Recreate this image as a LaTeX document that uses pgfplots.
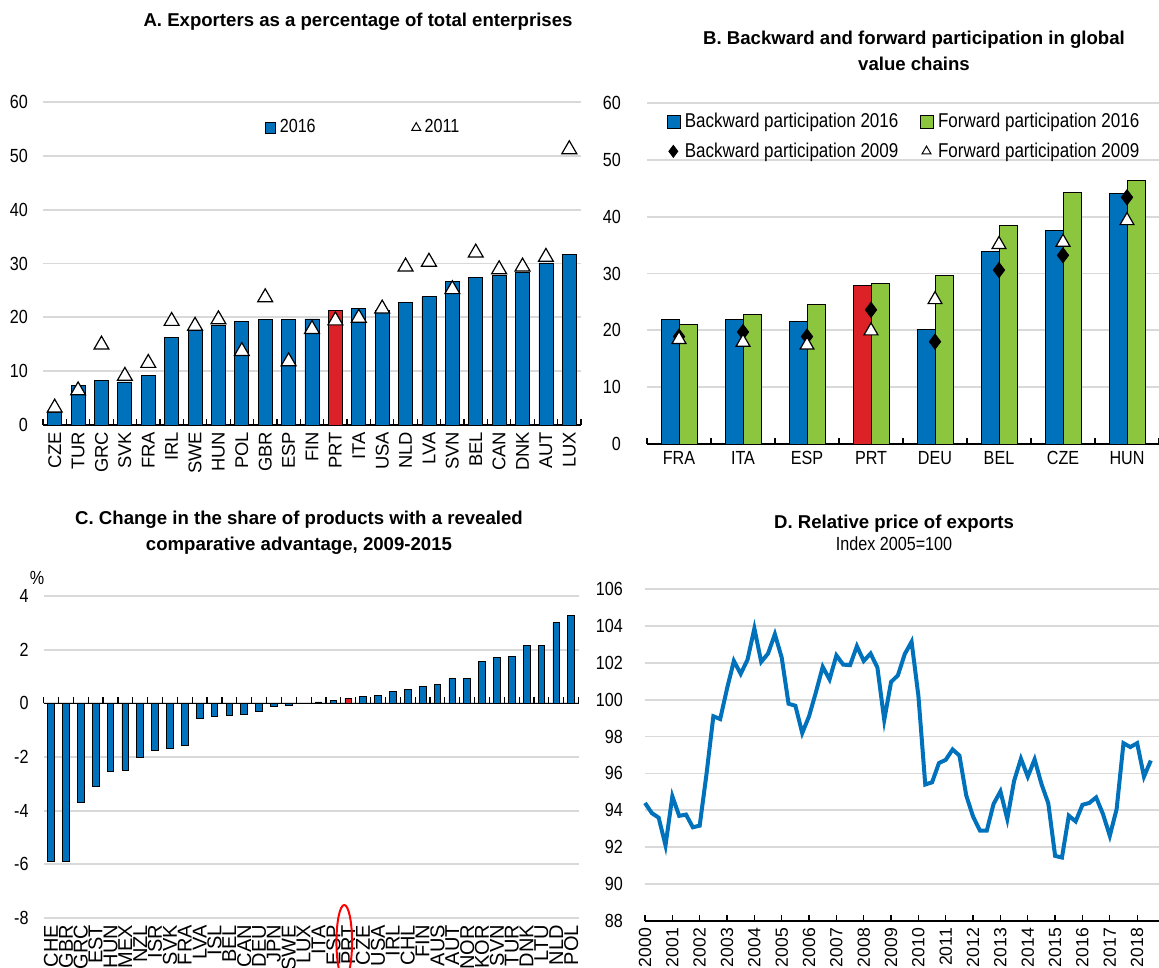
\documentclass[border=0pt]{standalone}
\usepackage{fontspec}
\setmainfont{Liberation Sans}[FakeStretch=0.85]
\newfontfamily\titlefont{Liberation Sans}
\usepackage{pgfplots}
\pgfplotsset{compat=1.18}

\definecolor{oblue}{RGB}{0,114,188}
\definecolor{ored}{RGB}{220,33,39}
\definecolor{ogreen}{RGB}{140,198,63}
\definecolor{ogrid}{RGB}{217,217,217}

\newcommand{\tfont}{\fontsize{9.5}{11}\selectfont}
\newcommand{\ttl}{\titlefont\bfseries\fontsize{9.3}{13}\selectfont}

\pgfplotsset{
  oecd/.style={
    scale only axis,
    anchor=south west,
    axis lines*=left,
    y axis line style={draw=none},
    x axis line style={line width=0.8pt,-},
    ytick style={draw=none},
    ymajorgrids,
    grid style={ogrid, line width=0.9pt},
    tick label style={font=\tfont},
    yticklabel style={xshift=-4pt},
    enlargelimits=false,
    clip=false,
  }
}

% Panel A: exporters (% of enterprises), 2016 bars and 2011 markers
\pgfplotstableread{
i name v16 v11
0  CZE 2.4  3.2
1  TUR 7.3  6.4
2  GRC 8.2  14.9
3  SVK 8.0  9.1
4  FRA 9.2  11.5
5  IRL 16.2 19.3
6  SWE 17.6 18.4
7  HUN 18.5 19.6
8  POL 19.2 13.7
9  GBR 19.6 23.7
10 ESP 19.6 11.8
11 FIN 19.7 17.8
12 PRT 21.2 19.4
13 ITA 21.7 19.9
14 USA 21.3 21.6
15 NLD 22.7 29.4
16 LVA 23.9 30.3
17 SVN 26.7 25.2
18 BEL 27.4 32.0
19 CAN 27.8 28.9
20 DNK 28.4 29.4
21 AUT 30.1 31.2
22 LUX 31.7 51.2
}\dataA

% Panel B: GVC participation
\pgfplotstableread{
i name b16 f16 b09 f09
0 FRA 21.95 21.1 18.9 18.4
1 ITA 21.95 22.8 19.7 17.9
2 ESP 21.5  24.6 18.9 17.4
3 PRT 27.9  28.3 23.6 19.9
4 DEU 20.2  29.7 18.0 25.4
5 BEL 33.8  38.5 30.6 35.1
6 CZE 37.6  44.2 33.2 35.5
7 HUN 44.1  46.4 43.4 39.3
}\dataB

% Panel C: change in RCA share
\pgfplotstableread{
i name v
0  CHE -5.88
1  GBR -5.88
2  GRC -3.71
3  EST -3.08
4  HUN -2.55
5  MEX -2.49
6  NZL -2.0
7  ISR -1.75
8  SVK -1.69
9  FRA -1.55
10 LVA -0.57
11 ISL -0.47
12 BEL -0.44
13 CAN -0.41
14 DEU -0.30
15 JPN -0.12
16 SWE -0.09
17 LUX 0.01
18 ITA 0.05
19 ESP 0.10
20 PRT 0.19
21 CZE 0.27
22 USA 0.30
23 IRL 0.45
24 CHL 0.53
25 FIN 0.62
26 AUS 0.72
27 AUT 0.92
28 NOR 0.93
29 KOR 1.55
30 SVN 1.72
31 TUR 1.75
32 DNK 2.15
33 LTU 2.15
34 NLD 3.01
35 POL 3.27
}\dataC

% Panel D: relative export price, quarterly
\pgfplotstableread{
t v
2000.00 94.4
2000.25 93.85
2000.50 93.6
2000.75 92.1
2001.00 94.76
2001.25 93.7
2001.50 93.77
2001.75 93.08
2002.00 93.17
2002.25 95.98
2002.50 99.1
2002.75 98.95
2003.00 100.6
2003.25 102.1
2003.50 101.4
2003.75 102.17
2004.00 103.86
2004.25 102.05
2004.50 102.5
2004.75 103.55
2005.00 102.28
2005.25 99.78
2005.50 99.67
2005.75 98.19
2006.00 99.1
2006.25 100.4
2006.50 101.78
2006.75 101.1
2007.00 102.4
2007.25 101.9
2007.50 101.87
2007.75 102.9
2008.00 102.1
2008.25 102.5
2008.50 101.74
2008.75 98.9
2009.00 100.96
2009.25 101.32
2009.50 102.47
2009.75 103.14
2010.00 100.2
2010.25 95.4
2010.50 95.52
2010.75 96.56
2011.00 96.74
2011.25 97.3
2011.50 96.97
2011.75 94.8
2012.00 93.66
2012.25 92.9
2012.50 92.9
2012.75 94.35
2013.00 95.03
2013.25 93.53
2013.50 95.6
2013.75 96.8
2014.00 95.83
2014.25 96.76
2014.50 95.43
2014.75 94.38
2015.00 91.53
2015.25 91.44
2015.50 93.71
2015.75 93.4
2016.00 94.3
2016.25 94.4
2016.50 94.7
2016.75 93.8
2017.00 92.62
2017.25 94.07
2017.50 97.64
2017.75 97.43
2018.00 97.64
2018.25 95.83
2018.50 96.7
}\dataD

\begin{document}
\begin{tikzpicture}
\path[use as bounding box] (0pt,0pt) rectangle (579.5pt,483.5pt);

% titles
\node[font=\ttl] at (179pt,472.5pt) {A. Exporters as a percentage of total enterprises};
\node[font=\ttl, align=center] at (457pt,458pt) {B. Backward and forward participation in global\\value chains};
\node[font=\ttl, align=center] at (149.5pt,217pt) {C. Change in the share of products with a revealed\\comparative advantage, 2009-2015};
\node[align=center, font=\tfont] at (447pt,217pt) {{\ttl D. Relative price of exports}\\Index 2005=100};
\node[font=\tfont] at (18.5pt,194.5pt) {\%};

% ---------- A ----------
\begin{axis}[oecd,
  at={(21.5pt,271pt)}, width=269pt, height=161.5pt,
  xmin=-0.5, xmax=22.5, ymin=0, ymax=60,
  ytick={0,10,20,30,40,50,60}, yticklabels={0,10,20,30,40,50,60},
  xtick={0,...,22},
  xticklabels={CZE,TUR,GRC,SVK,FRA,IRL,SWE,HUN,POL,GBR,ESP,FIN,PRT,ITA,USA,NLD,LVA,SVN,BEL,CAN,DNK,AUT,LUX},
  xticklabel style={rotate=90, anchor=east, font=\titlefont\fontsize{9.2}{11}\selectfont},
  minor xtick={-0.5,0.5,...,22.5},
  major tick length=0pt, minor tick length=3pt, tick align=inside,
  minor x tick style={black, line width=0.6pt},
  legend columns=2,
  legend style={draw=none, fill=none, font=\tfont, at={(0.40,0.92)}, anchor=west,
    /tikz/every even column/.append style={column sep=46pt}},
]
\addplot[ybar, bar width=0.6, bar shift=0pt, fill=oblue, draw=black, line width=0.4pt,
  legend image code/.code={\draw[fill=oblue,draw=black,line width=0.4pt] (0pt,-2.6pt) rectangle (5.2pt,2.6pt);}]
  table[x=i,y=v16] {\dataA};
\addlegendentry{2016}
\addplot[ybar, bar width=0.6, bar shift=0pt, fill=ored, draw=black, line width=0.4pt, forget plot]
  coordinates {(12,21.2)};
\addplot[only marks, mark=triangle*, mark size=4.3pt,
  mark options={fill=white, draw=black, line width=0.6pt},
  legend image code/.code={\draw[only marks, mark=triangle*, mark size=2.6pt, mark options={fill=white, draw=black, line width=0.5pt}] plot coordinates {(0.1cm,0cm)};}]
  table[x=i,y=v11] {\dataA};
\addlegendentry{2011}
\end{axis}

% ---------- B ----------
\begin{axis}[oecd,
  at={(323.5pt,261.5pt)}, width=256pt, height=170.5pt,
  xmin=-0.5, xmax=7.5, ymin=0, ymax=60,
  ytick={0,10,20,30,40,50,60}, yticklabels={0,10,20,30,40,50,60},
  yticklabel style={xshift=-5.5pt},
  xtick={0,...,7},
  xticklabels={FRA,ITA,ESP,PRT,DEU,BEL,CZE,HUN},
  minor xtick={-0.5,0.5,...,7.5},
  major tick length=0pt, minor tick length=3pt, tick align=inside,
  minor x tick style={black, line width=0.6pt},
  legend columns=2,
  legend style={draw=none, fill=none, font=\fontsize{10}{11}\selectfont, at={(0.027,0.995)}, anchor=north west,
    row sep=2pt,
    /tikz/every even column/.append style={column sep=9pt}},
]
\addplot[ybar, bar width=0.28, bar shift=-0.14, fill=oblue, draw=black, line width=0.4pt,
  legend image code/.code={\draw[fill=oblue,draw=black,line width=0.4pt] (0pt,-3.2pt) rectangle (6.4pt,3.2pt);}]
  table[x=i,y=b16] {\dataB};
\addlegendentry{Backward participation 2016}
\addplot[ybar, bar width=0.28, bar shift=0.14, fill=ogreen, draw=black, line width=0.4pt,
  legend image code/.code={\draw[fill=ogreen,draw=black,line width=0.4pt] (0pt,-3.2pt) rectangle (6.4pt,3.2pt);}]
  table[x=i,y=f16] {\dataB};
\addlegendentry{Forward participation 2016}
\addplot[ybar, bar width=0.28, bar shift=-0.14, fill=ored, draw=black, line width=0.4pt, forget plot]
  coordinates {(3,27.9)};
\addplot[only marks, mark=diamond*, mark size=3.8pt,
  mark options={fill=black, draw=black},
  legend image code/.code={\draw[only marks, mark=diamond*, mark size=3pt, mark options={fill=black, draw=black}] plot coordinates {(0.1cm,0cm)};}]
  table[x=i,y=b09] {\dataB};
\addlegendentry{Backward participation 2009}
\addplot[only marks, mark=triangle*, mark size=4pt,
  mark options={fill=white, draw=black, line width=0.6pt},
  legend image code/.code={\draw[only marks, mark=triangle*, mark size=2.6pt, mark options={fill=white, draw=black, line width=0.5pt}] plot coordinates {(0.1cm,0cm)};}]
  table[x=i,y=f09] {\dataB};
\addlegendentry{Forward participation 2009}
\end{axis}

% ---------- C ----------
\begin{axis}[oecd,
  at={(21.8pt,24.5pt)}, width=267.5pt, height=161pt,
  xmin=-0.5, xmax=35.5, ymin=-8, ymax=4,
  ytick={-8,-6,-4,-2,0,2,4}, yticklabels={-8,-6,-4,-2,0,2,4},
  x axis line style={draw=none},
  xtick={0,...,35},
  xticklabels={CHE,GBR,GRC,EST,HUN,MEX,NZL,ISR,SVK,FRA,LVA,ISL,BEL,CAN,DEU,JPN,SWE,LUX,ITA,ESP,PRT,CZE,USA,IRL,CHL,FIN,AUS,AUT,NOR,KOR,SVN,TUR,DNK,LTU,NLD,POL},
  xticklabel style={rotate=90, anchor=east, font=\titlefont\fontsize{10}{11}\selectfont},
  major tick length=0pt,
]
\addplot[ybar, bar width=0.45, bar shift=0pt, fill=oblue, draw=black, line width=0.4pt]
  table[x=i,y=v] {\dataC};
\addplot[ybar, bar width=0.45, bar shift=0pt, fill=ored, draw=black, line width=0.4pt]
  coordinates {(20,0.19)};
\draw[black, line width=0.8pt] (axis cs:-0.5,0) -- (axis cs:35.5,0);
\pgfplotsinvokeforeach{-0.5,0.5,...,35.5}{
  \draw[black, line width=0.6pt] (axis cs:#1,0) -- ++(0pt,3pt);
}
\draw[red, line width=1pt] (axis cs:20,-8) ++(-2pt,-12pt) ellipse [x radius=3.9pt, y radius=18.5pt];
\end{axis}

% ---------- D ----------
\begin{axis}[oecd,
  at={(322.5pt,23pt)}, width=257pt, height=166pt,
  xmin=2000, xmax=2018.8, ymin=88, ymax=106,
  ytick={88,90,...,106}, yticklabels={88,90,92,94,96,98,100,102,104,106},
  yticklabel style={xshift=-3.5pt},
  xtick={2000,...,2018},
  xticklabels={2000,2001,2002,2003,2004,2005,2006,2007,2008,2009,2010,2011,2012,2013,2014,2015,2016,2017,2018},
  xticklabel style={rotate=90, anchor=east, font=\titlefont\fontsize{8.8}{10}\selectfont},
  major tick length=3pt, tick align=inside,
  major x tick style={black, line width=0.6pt},
]
\addplot[oblue, line width=2pt] table[x=t,y=v] {\dataD};
\end{axis}
\end{tikzpicture}
\end{document}
